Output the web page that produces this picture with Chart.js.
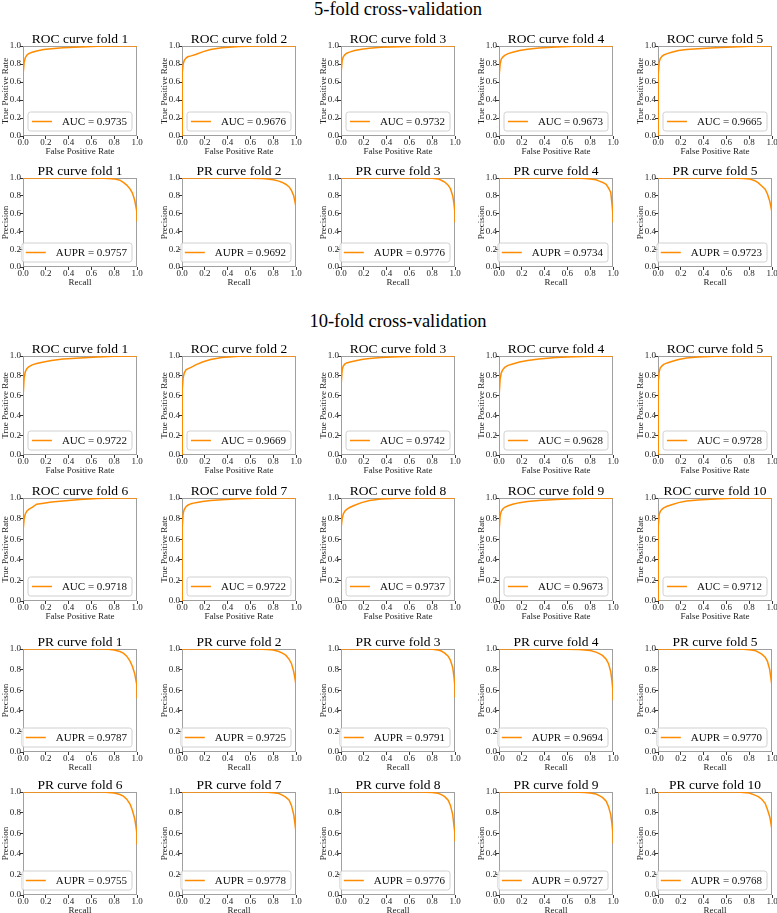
<!DOCTYPE html>
<html>
<head>
<meta charset="utf-8">
<script src="https://cdn.jsdelivr.net/npm/chart.js@4.4.1/dist/chart.umd.min.js"></script>
<style>
  body { margin: 0; background: #fff; width: 777px; height: 913px; position: relative; overflow: hidden; font-family: "Liberation Serif", "Times New Roman", serif; }
  .suptitle { position: absolute; width: 300px; text-align: center; font-size: 18.5px; line-height: 18.5px; color: #000; }
  canvas { position: absolute; }
</style>
</head>
<body>
<div class="suptitle" style="left:248px;top:0px">5-fold cross-validation</div>
<div class="suptitle" style="left:248px;top:312px">10-fold cross-validation</div>
<script>
/* global Chart */

// shared x grids (false positive rate / recall)
const rocFpr = [0, 0.002, 0.01, 0.02, 0.035, 0.05, 0.08, 0.12, 0.18, 0.25, 0.35, 0.5, 0.65, 0.8, 1.0];
const prRecall = [0, 0.3, 0.6, 0.7, 0.75, 0.8, 0.85, 0.88, 0.91, 0.94, 0.96, 0.98, 0.99, 0.999, 1.0];

// 5-fold
const roc5Auc = [0.9735, 0.9676, 0.9732, 0.9673, 0.9665];
const roc5Tpr = [
  [0, 0.70, 0.82, 0.87, 0.90, 0.915, 0.93, 0.945, 0.96, 0.97, 0.98, 0.99, 0.996, 0.999, 1],
  [0, 0.70, 0.80, 0.84, 0.865, 0.88, 0.89, 0.905, 0.935, 0.96, 0.98, 0.995, 1, 1, 1],
  [0, 0.72, 0.84, 0.88, 0.905, 0.92, 0.935, 0.95, 0.965, 0.975, 0.985, 0.993, 0.998, 1, 1],
  [0, 0.68, 0.80, 0.855, 0.88, 0.895, 0.915, 0.93, 0.95, 0.965, 0.978, 0.99, 0.997, 1, 1],
  [0, 0.68, 0.82, 0.86, 0.885, 0.90, 0.915, 0.93, 0.95, 0.96, 0.97, 0.98, 0.99, 0.997, 1],
];
const pr5Aupr = [0.9757, 0.9692, 0.9776, 0.9734, 0.9723];
const pr5Precision = [
  [1, 1, 1, 0.998, 0.995, 0.99, 0.975, 0.95, 0.92, 0.875, 0.83, 0.75, 0.68, 0.62, 0.51],
  [1, 1, 0.998, 0.995, 0.99, 0.98, 0.965, 0.95, 0.93, 0.90, 0.86, 0.80, 0.74, 0.68, 0.64],
  [1, 1, 1, 1, 0.999, 0.997, 0.99, 0.975, 0.955, 0.92, 0.88, 0.80, 0.72, 0.62, 0.50],
  [1, 1, 1, 0.998, 0.995, 0.99, 0.98, 0.965, 0.95, 0.93, 0.89, 0.84, 0.72, 0.60, 0.50],
  [1, 1, 1, 0.998, 0.995, 0.99, 0.97, 0.945, 0.91, 0.875, 0.82, 0.74, 0.68, 0.62, 0.57],
];

// 10-fold
const roc10Auc = [0.9722, 0.9669, 0.9742, 0.9628, 0.9728, 0.9718, 0.9722, 0.9737, 0.9673, 0.9712];
const roc10Tpr = [
  [0, 0.62, 0.78, 0.84, 0.875, 0.89, 0.91, 0.925, 0.94, 0.955, 0.97, 0.98, 0.99, 0.997, 1],
  [0, 0.66, 0.78, 0.83, 0.86, 0.87, 0.885, 0.91, 0.94, 0.965, 0.985, 0.997, 1, 1, 1],
  [0, 0.72, 0.86, 0.90, 0.92, 0.93, 0.94, 0.95, 0.965, 0.975, 0.985, 0.993, 0.998, 1, 1],
  [0, 0.62, 0.77, 0.83, 0.865, 0.885, 0.905, 0.92, 0.94, 0.955, 0.97, 0.985, 0.993, 0.998, 1],
  [0, 0.74, 0.84, 0.88, 0.90, 0.915, 0.93, 0.945, 0.965, 0.98, 0.99, 0.997, 1, 1, 1],
  [0, 0.70, 0.80, 0.845, 0.875, 0.89, 0.91, 0.94, 0.95, 0.96, 0.97, 0.985, 0.995, 1, 1],
  [0, 0.72, 0.85, 0.89, 0.915, 0.93, 0.945, 0.955, 0.965, 0.975, 0.983, 0.992, 0.997, 1, 1],
  [0, 0.72, 0.80, 0.845, 0.875, 0.89, 0.91, 0.93, 0.955, 0.975, 0.99, 0.998, 1, 1, 1],
  [0, 0.70, 0.83, 0.87, 0.895, 0.91, 0.925, 0.94, 0.955, 0.965, 0.975, 0.985, 0.993, 0.998, 1],
  [0, 0.72, 0.84, 0.87, 0.89, 0.905, 0.92, 0.935, 0.955, 0.97, 0.98, 0.99, 0.997, 1, 1],
];
const pr10Aupr = [0.9787, 0.9725, 0.9791, 0.9694, 0.9770, 0.9755, 0.9778, 0.9776, 0.9727, 0.9768];
const pr10Precision = [
  [1, 1, 1, 0.999, 0.997, 0.99, 0.975, 0.96, 0.93, 0.88, 0.83, 0.76, 0.70, 0.65, 0.52],
  [1, 1, 1, 0.998, 0.995, 0.99, 0.975, 0.96, 0.94, 0.90, 0.86, 0.78, 0.72, 0.66, 0.60],
  [1, 1, 1, 1, 0.999, 0.997, 0.99, 0.98, 0.96, 0.93, 0.89, 0.82, 0.74, 0.64, 0.53],
  [1, 1, 0.998, 0.995, 0.99, 0.985, 0.97, 0.955, 0.935, 0.90, 0.86, 0.78, 0.70, 0.60, 0.50],
  [1, 1, 1, 0.999, 0.997, 0.993, 0.985, 0.97, 0.95, 0.92, 0.88, 0.80, 0.72, 0.65, 0.58],
  [1, 1, 1, 0.999, 0.996, 0.99, 0.975, 0.96, 0.93, 0.88, 0.82, 0.74, 0.67, 0.60, 0.49],
  [1, 1, 1, 0.999, 0.997, 0.993, 0.985, 0.97, 0.95, 0.92, 0.87, 0.78, 0.70, 0.62, 0.55],
  [1, 1, 1, 1, 0.998, 0.995, 0.987, 0.975, 0.955, 0.92, 0.87, 0.78, 0.68, 0.60, 0.52],
  [1, 1, 1, 0.998, 0.995, 0.99, 0.98, 0.965, 0.945, 0.91, 0.86, 0.78, 0.70, 0.60, 0.50],
  [1, 1, 1, 0.999, 0.995, 0.99, 0.97, 0.955, 0.93, 0.89, 0.83, 0.76, 0.70, 0.64, 0.58],
];

// layout of the grid of panels
const colLeft = [23, 182, 341, 499, 658];
const plotW = 114;
const rowBox = [[46, 136], [178, 267], [356, 455], [498, 601], [649, 752], [792, 895]];
const ORANGE = "#ff8c00";
const FONT = '"Liberation Serif", "Times New Roman", serif';

function makePanel(row, col, title, xs, ys, label, xTitle, yTitle) {
  let top = rowBox[row][0];
  let bottom = rowBox[row][1];
  let w = 23 + plotW + 10;
  let h = 22 + (bottom - top) + 21;
  let cv = document.createElement("canvas");
  cv.width = w;
  cv.height = h;
  cv.style.left = colLeft[col] - 23 + "px";
  cv.style.top = top - 22 + "px";
  cv.style.width = w + "px";
  cv.style.height = h + "px";
  document.body.appendChild(cv);

  let points = xs.map((x, i) => ({ x: x, y: ys[i] }));

  // frame, title and the little legend box in the lower right
  let deco = {
    id: "deco",
    beforeDatasetsDraw(chart) {
      let ctx = chart.ctx;
      let a = chart.chartArea;
      ctx.save();
      ctx.strokeStyle = "#a0a0a0";
      ctx.lineWidth = 1;
      ctx.strokeRect(Math.round(a.left) + 0.5, Math.round(a.top) + 0.5, Math.round(a.right - a.left) - 1, Math.round(a.bottom - a.top) - 1);
      ctx.restore();
    },
    afterDraw(chart) {
      let ctx = chart.ctx;
      let a = chart.chartArea;
      ctx.save();
      ctx.fillStyle = "#000";
      ctx.font = "13.5px " + FONT;
      ctx.textAlign = "center";
      ctx.textBaseline = "alphabetic";
      ctx.fillText(title, (a.left + a.right) / 2, a.top - 3);

      ctx.font = "11px " + FONT;
      let tw = ctx.measureText(label).width;
      let bw = 4.4 + 20 + 10 + tw + 4.4;
      let bh = 19;
      let bx = a.right - 5.5 - bw;
      let by = a.bottom - 5.5 - bh;
      ctx.beginPath();
      ctx.roundRect(bx + 0.5, by + 0.5, bw, bh, 2.5);
      ctx.fillStyle = "rgba(255,255,255,0.8)";
      ctx.fill();
      ctx.strokeStyle = "#d0d0d0";
      ctx.lineWidth = 1;
      ctx.stroke();
      ctx.beginPath();
      ctx.moveTo(bx + 4.4, by + bh / 2 + 0.5);
      ctx.lineTo(bx + 24.4, by + bh / 2 + 0.5);
      ctx.strokeStyle = ORANGE;
      ctx.lineWidth = 1.5;
      ctx.stroke();
      ctx.fillStyle = "#111";
      ctx.textAlign = "left";
      ctx.textBaseline = "middle";
      ctx.fillText(label, bx + 34.4, by + bh / 2 + 1);
      ctx.restore();
    },
  };

  let tickFont = { family: FONT, size: 9 };

  new Chart(cv.getContext("2d"), {
    type: "line",
    data: {
      datasets: [
        {
          label: label,
          data: points,
          borderColor: ORANGE,
          borderWidth: 1.5,
          pointRadius: 0,
          fill: false,
          tension: 0,
        },
      ],
    },
    options: {
      responsive: false,
      animation: false,
      devicePixelRatio: 1,
      layout: { padding: { top: 22, right: 10, left: 0, bottom: 0 } },
      plugins: {
        legend: { display: false },
        title: { display: false },
        tooltip: { enabled: false },
      },
      scales: {
        x: {
          type: "linear",
          min: 0,
          max: 1,
          ticks: { stepSize: 0.2, callback: (v) => v.toFixed(1), font: tickFont, color: "#222", padding: -2, maxRotation: 0, autoSkip: false },
          grid: { drawOnChartArea: false, drawTicks: true, tickLength: 3, color: "#333" },
          border: { display: false },
          title: { display: true, text: xTitle, font: tickFont, color: "#222", padding: 0 },
          afterFit: (s) => { s.height = 21; },
        },
        y: {
          type: "linear",
          min: 0,
          max: 1,
          ticks: { stepSize: 0.2, callback: (v) => v.toFixed(1), font: tickFont, color: "#222", padding: -1, autoSkip: false },
          grid: { drawOnChartArea: false, drawTicks: true, tickLength: 3, color: "#333" },
          border: { display: false },
          title: { display: true, text: yTitle, font: tickFont, color: "#222", padding: 0 },
          afterFit: (s) => { s.width = 23; },
        },
      },
    },
    plugins: [deco],
  });
}

for (let i = 0; i < 5; i++) {
  makePanel(0, i, "ROC curve fold " + (i + 1), rocFpr, roc5Tpr[i], "AUC = " + roc5Auc[i].toFixed(4), "False Positive Rate", "True Positive Rate");
  makePanel(1, i, "PR curve fold " + (i + 1), prRecall, pr5Precision[i], "AUPR = " + pr5Aupr[i].toFixed(4), "Recall", "Precision");
}
for (let i = 0; i < 10; i++) {
  let r = i < 5 ? 2 : 3;
  makePanel(r, i % 5, "ROC curve fold " + (i + 1), rocFpr, roc10Tpr[i], "AUC = " + roc10Auc[i].toFixed(4), "False Positive Rate", "True Positive Rate");
}
for (let i = 0; i < 10; i++) {
  let r = i < 5 ? 4 : 5;
  makePanel(r, i % 5, "PR curve fold " + (i + 1), prRecall, pr10Precision[i], "AUPR = " + pr10Aupr[i].toFixed(4), "Recall", "Precision");
}
</script>
</body>
</html>
